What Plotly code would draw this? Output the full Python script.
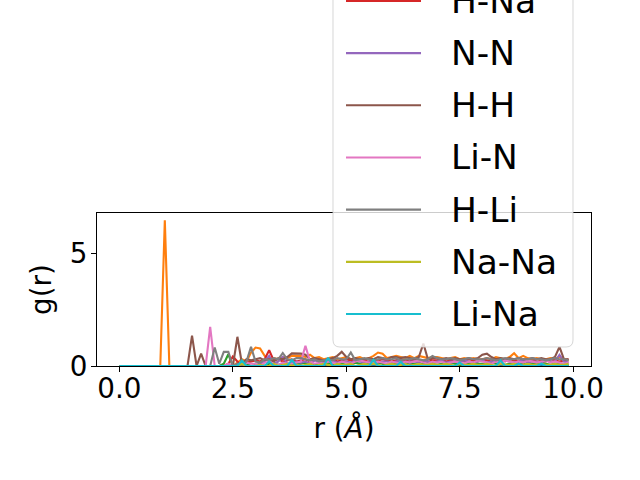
import plotly.graph_objects as go

# ---------------- data ----------------
r = [0.0, 0.1, 0.2, 0.3, 0.4, 0.5, 0.6, 0.7, 0.8, 0.9,
     1.0, 1.1, 1.2, 1.3, 1.4, 1.5, 1.6, 1.7, 1.8, 1.9,
     2.0, 2.1, 2.2, 2.3, 2.4, 2.5, 2.6, 2.7, 2.8, 2.9,
     3.0, 3.1, 3.2, 3.3, 3.4, 3.5, 3.6, 3.7, 3.8, 3.9,
     4.0, 4.1, 4.2, 4.3, 4.4, 4.5, 4.6, 4.7, 4.8, 4.9,
     5.0, 5.1, 5.2, 5.3, 5.4, 5.5, 5.6, 5.7, 5.8, 5.9,
     6.0, 6.1, 6.2, 6.3, 6.4, 6.5, 6.6, 6.7, 6.8, 6.9,
     7.0, 7.1, 7.2, 7.3, 7.4, 7.5, 7.6, 7.7, 7.8, 7.9,
     8.0, 8.1, 8.2, 8.3, 8.4, 8.5, 8.6, 8.7, 8.8, 8.9,
     9.0, 9.1, 9.2, 9.3, 9.4, 9.5, 9.6, 9.7, 9.8, 9.9]

names = ["Li-Li", "H-N", "N-Na", "H-Na", "N-N", "H-H", "Li-N", "H-Li", "Na-Na", "Li-Na"]
colors = ["#1f77b4", "#ff7f0e", "#2ca02c", "#d62728", "#9467bd",
          "#8c564b", "#e377c2", "#7f7f7f", "#bcbd22", "#17becf"]

g_li_li = [0, 0, 0, 0, 0, 0, 0, 0, 0, 0,
           0, 0, 0, 0, 0, 0, 0, 0, 0, 0,
           0, 0, 0, 0, 0, 0, 0, 0, 0, 0,
           0, 0, 0, 0, 0, 0, 0, 0, 0, 0,
           0, 0, 0, 0, 0, 0, 0, 0, 0, 0,
           0, 0, 0, 0, 0, 0, 0, 0, 0, 0,
           0, 0, 0, 0, 0, 0, 0, 0, 0, 0,
           0, 0, 0, 0, 0, 0, 0, 0, 0, 0,
           0, 0, 0, 0, 0, 0, 0, 0, 0, 0,
           0, 0, 0, 0, 0, 0, 0, 0, 0, 0]

g_h_n = [0, 0, 0, 0, 0, 0, 0, 0, 0, 0,
         6.49, 0, 0, 0, 0, 0, 0, 0, 0, 0,
         0, 0, 0, 0, 0, 0, 0.15, 0.3, 0.2, 0.6,
         0.82, 0.78, 0.45, 0.3, 0.35, 0.3, 0.4, 0.35, 0.45, 0.45,
         0.45, 0.4, 0.5, 0.35, 0.4, 0.3, 0.35, 0.4, 0.3, 0.35,
         0.4, 0.3, 0.35, 0.4, 0.3, 0.35, 0.45, 0.6, 0.55, 0.35,
         0.4, 0.45, 0.4, 0.35, 0.45, 0.35, 0.45, 0.4, 0.35, 0.4,
         0.4, 0.35, 0.3, 0.35, 0.4, 0.3, 0.35, 0.3, 0.35, 0.3,
         0.3, 0.35, 0.3, 0.4, 0.35, 0.3, 0.4, 0.57, 0.35, 0.45,
         0.35, 0.3, 0.35, 0.3, 0.3, 0.35, 0.3, 0.4, 0.3, 0.25]

g_n_na = [0, 0, 0, 0, 0, 0, 0, 0, 0, 0,
          0, 0, 0, 0, 0, 0, 0, 0, 0, 0,
          0, 0, 0, 0.1, 0.52, 0, 0, 0.05, 0.1, 0,
          0.05, 0.1, 0, 0.1, 0.15, 0.05, 0.1, 0.1, 0.05, 0.1,
          0.1, 0.15, 0.1, 0.05, 0.1, 0.1, 0.15, 0.05, 0.1, 0.1,
          0.05, 0.1, 0.15, 0.1, 0.05, 0.1, 0.1, 0.15, 0.1, 0.05,
          0.1, 0.1, 0.05, 0.15, 0.1, 0.1, 0.05, 0.1, 0.15, 0.1,
          0.05, 0.1, 0.1, 0.15, 0.1, 0.05, 0.1, 0.1, 0.15, 0.1,
          0.1, 0.05, 0.15, 0.1, 0.1, 0.05, 0.1, 0.15, 0.1, 0.1,
          0.05, 0.1, 0.1, 0.15, 0.1, 0.05, 0.1, 0.1, 0.1, 0.05]

g_h_na = [0, 0, 0, 0, 0, 0, 0, 0, 0, 0,
          0, 0, 0, 0, 0, 0, 0, 0, 0, 0,
          0, 0, 0, 0, 0.1, 0.42, 0.2, 0, 0.15, 0.2,
          0.25, 0.2, 0.3, 0.7, 0.25, 0.3, 0.2, 0.25, 0.3, 0.2,
          0.25, 0.3, 0.2, 0.25, 0.3, 0.2, 0.25, 0.3, 0.2, 0.25,
          0.3, 0.25, 0.2, 0.3, 0.25, 0.3, 0.2, 0.25, 0.3, 0.25,
          0.2, 0.25, 0.3, 0.25, 0.2, 0.3, 0.25, 0.2, 0.3, 0.25,
          0.25, 0.3, 0.2, 0.25, 0.3, 0.25, 0.2, 0.3, 0.25, 0.2,
          0.3, 0.25, 0.2, 0.3, 0.25, 0.2, 0.3, 0.25, 0.2, 0.3,
          0.25, 0.2, 0.3, 0.25, 0.2, 0.3, 0.25, 0.2, 0.25, 0.3]

g_n_n = [0, 0, 0, 0, 0, 0, 0, 0, 0, 0,
         0, 0, 0, 0, 0, 0, 0, 0, 0, 0,
         0, 0, 0, 0, 0, 0, 0, 0, 0, 0,
         0, 0.1, 0.2, 0.45, 0.1, 0.2, 0.4, 0.1, 0.15, 0.2,
         0.15, 0.2, 0.1, 0.25, 0.2, 0.15, 0.2, 0.25, 0.15, 0.2,
         0.2, 0.15, 0.25, 0.2, 0.15, 0.2, 0.25, 0.15, 0.2, 0.2,
         0.15, 0.2, 0.25, 0.15, 0.2, 0.2, 0.15, 0.25, 0.2, 0.15,
         0.2, 0.25, 0.15, 0.2, 0.2, 0.15, 0.25, 0.2, 0.15, 0.2,
         0.25, 0.15, 0.2, 0.2, 0.15, 0.25, 0.2, 0.15, 0.2, 0.25,
         0.15, 0.2, 0.2, 0.15, 0.25, 0.2, 0.2, 0.5, 0.2, 0.15]

g_h_h = [0, 0, 0, 0, 0, 0, 0, 0, 0, 0,
         0, 0, 0, 0, 0, 0, 1.35, 0, 0.55, 0,
         0, 0, 0, 0, 0, 0, 1.3, 0.1, 0.3, 0.25,
         0.3, 0.35, 0.25, 0.3, 0.2, 0.35, 0.3, 0.4, 0.56, 0.55,
         0.55, 0.5, 0.3, 0.35, 0.3, 0.25, 0.3, 0.35, 0.45, 0.63,
         0.4, 0.3, 0.35, 0.3, 0.3, 0.35, 0.3, 0.4, 0.35, 0.3,
         0.4, 0.4, 0.35, 0.4, 0.35, 0.3, 0.4, 1.0, 0.3, 0.35,
         0.35, 0.3, 0.35, 0.3, 0.35, 0.3, 0.3, 0.35, 0.3, 0.35,
         0.5, 0.55, 0.4, 0.3, 0.35, 0.3, 0.35, 0.3, 0.35, 0.3,
         0.3, 0.35, 0.3, 0.35, 0.3, 0.3, 0.4, 0.85, 0.3, 0.3]

g_li_n = [0, 0, 0, 0, 0, 0, 0, 0, 0, 0,
          0, 0, 0, 0, 0, 0, 0, 0, 0, 0,
          1.74, 0, 0, 0, 0.1, 0, 0, 0, 0.15, 0.1,
          0.1, 0, 0.15, 0.2, 0.1, 0.05, 0.15, 0.1, 0.1, 0.15,
          0.2, 0.9, 0.2, 0.1, 0.15, 0.1, 0.2, 0.15, 0.1, 0.2,
          0.15, 0.1, 0.2, 0.25, 0.2, 0.15, 0.1, 0.2, 0.15, 0.1,
          0.2, 0.15, 0.1, 0.2, 0.15, 0.2, 0.25, 0.15, 0.1, 0.2,
          0.15, 0.2, 0.1, 0.15, 0.2, 0.15, 0.1, 0.2, 0.15, 0.25,
          0.2, 0.15, 0.1, 0.2, 0.15, 0.25, 0.2, 0.15, 0.2, 0.15,
          0.25, 0.2, 0.15, 0.2, 0.25, 0.15, 0.2, 0.15, 0.1, 0.15]

g_h_li = [0, 0, 0, 0, 0, 0, 0, 0, 0, 0,
          0, 0, 0, 0, 0, 0, 0, 0, 0, 0,
          0, 0.82, 0.1, 0.63, 0.63, 0, 0.1, 0, 0.2, 0.85,
          0.2, 0.15, 0.3, 0.25, 0.35, 0.3, 0.58, 0.3, 0.25, 0.35,
          0.35, 0.3, 0.25, 0.3, 0.2, 0.25, 0.3, 0.25, 0.35, 0.3,
          0.3, 0.6, 0.25, 0.3, 0.35, 0.3, 0.25, 0.3, 0.35, 0.3,
          0.3, 0.35, 0.25, 0.3, 0.3, 0.35, 0.3, 0.25, 0.3, 0.45,
          0.35, 0.3, 0.3, 0.35, 0.3, 0.25, 0.3, 0.35, 0.3, 0.3,
          0.3, 0.35, 0.3, 0.25, 0.3, 0.35, 0.3, 0.3, 0.35, 0.3,
          0.3, 0.35, 0.3, 0.3, 0.25, 0.3, 0.35, 0.3, 0.3, 0.25]

g_na_na = [0, 0, 0, 0, 0, 0, 0, 0, 0, 0,
           0, 0, 0, 0, 0, 0, 0, 0, 0, 0,
           0, 0, 0, 0, 0, 0, 0, 0.1, 0, 0,
           0, 0.05, 0, 0, 0.1, 0, 0.05, 0.1, 0, 0.05,
           0, 0.05, 0.1, 0, 0.05, 0.1, 0.05, 0, 0.1, 0.05,
           0.05, 0.1, 0, 0.05, 0.1, 0.05, 0.1, 0.05, 0, 0.05,
           0.1, 0.05, 0.05, 0.1, 0, 0.05, 0.1, 0.05, 0.05, 0.1,
           0.05, 0.05, 0.1, 0.05, 0, 0.1, 0.05, 0.05, 0.1, 0.05,
           0.05, 0.1, 0.05, 0, 0.1, 0.05, 0.05, 0.1, 0.05, 0.05,
           0.1, 0.05, 0.05, 0.1, 0.05, 0.05, 0.1, 0.05, 0.05, 0.1]

g_li_na = [0, 0, 0, 0, 0, 0, 0, 0, 0, 0,
           0, 0, 0, 0, 0, 0, 0, 0, 0, 0,
           0, 0, 0, 0, 0, 0, 0, 0.25, 0, 0,
           0, 0, 0, 0.2, 0, 0, 0, 0, 0.27, 0,
           0, 0, 0, 0, 0, 0, 0.37, 0, 0, 0,
           0, 0, 0, 0, 0, 0, 0.28, 0, 0, 0,
           0, 0, 0.18, 0, 0, 0, 0, 0, 0, 0,
           0, 0, 0, 0, 0, 0.15, 0, 0, 0, 0,
           0, 0, 0, 0, 0.25, 0, 0, 0, 0.1, 0,
           0, 0, 0, 0.1, 0, 0, 0, 0, 0, 0]

series = [g_li_li, g_h_n, g_n_na, g_h_na, g_n_n, g_h_h, g_li_n, g_h_li, g_na_na, g_li_na]

# ---------------- layout geometry (page px; body margin removed) ----------------
W, H = 640, 480
L, R, T, B = 97, 591, 213, 366
FONT = "DejaVu Sans"


def px_x(px):
    return (px - L) / (R - L)


def px_y(py):
    return (B - py) / (B - T)


fig = go.Figure()
for name, col, ys in zip(names, colors, series):
    fig.add_trace(go.Scatter(x=r, y=ys, mode="lines", name=name,
                             line=dict(color=col, width=2.1), showlegend=False))

# ---------------- matplotlib-style legend (upper part runs off the top) ----------------
shapes = []
annotations = []
bx0, bx1, by0, by1 = px_x(333), px_x(573), px_y(347), px_y(-60)
rx, ry = 7 / (R - L), 7 / (B - T)
path = (f"M {bx0 + rx},{by0} L {bx1 - rx},{by0} Q {bx1},{by0} {bx1},{by0 + ry} "
        f"L {bx1},{by1} L {bx0},{by1} L {bx0},{by0 + ry} Q {bx0},{by0} {bx0 + rx},{by0} Z")
shapes.append(dict(type="path", path=path, xref="paper", yref="paper", layer="above",
                   fillcolor="rgba(255,255,255,0.8)",
                   line=dict(color="rgba(204,204,204,0.8)", width=1)))
n = len(names)
for i, (name, col) in enumerate(zip(names, colors)):
    py = 314 - (n - 1 - i) * 52.17
    if py < -20:
        continue  # entry lies entirely above the visible window
    shapes.append(dict(type="line", xref="paper", yref="paper", layer="above",
                       x0=px_x(346), x1=px_x(421), y0=px_y(py), y1=px_y(py),
                       line=dict(color=col, width=2.1)))
    annotations.append(dict(text=name, xref="paper", yref="paper", x=px_x(449), y=px_y(py),
                            xanchor="left", yanchor="middle", showarrow=False,
                            font=dict(family=FONT, size=34.4, color="black")))

axis_common = dict(showline=True, linecolor="black", linewidth=1.1, mirror=True,
                   ticks="outside", ticklen=5, tickwidth=1.1, tickcolor="black",
                   showgrid=False, zeroline=False,
                   tickfont=dict(family=FONT, size=27.8, color="black"))

fig.update_layout(
    width=W, height=H,
    margin=dict(l=L, r=W - R, t=T, b=H - B, pad=0, autoexpand=False),
    paper_bgcolor="white", plot_bgcolor="white",
    font=dict(family=FONT, color="black"),
    showlegend=False,
    xaxis=dict(range=[-0.495, 10.395], tickvals=[0, 2.5, 5, 7.5, 10],
               ticktext=["0.0", "2.5", "5.0", "7.5", "10.0"],
               ticklabelstandoff=-7,
               title=dict(text="r (<i>Å</i>)", font=dict(family=FONT, size=27.8), standoff=14),
               automargin=False, **axis_common),
    yaxis=dict(range=[0, 6.81], tickvals=[0, 5], ticktext=["0", "5"],
               ticklabelstandoff=-2,
               title=dict(text="g(r)", font=dict(family=FONT, size=27.8), standoff=9),
               automargin=False, **axis_common),
    shapes=shapes,
    annotations=annotations,
)

fig.write_html("out.html", config={"displayModeBar": False},
               post_script="document.body.style.margin='0px';")
